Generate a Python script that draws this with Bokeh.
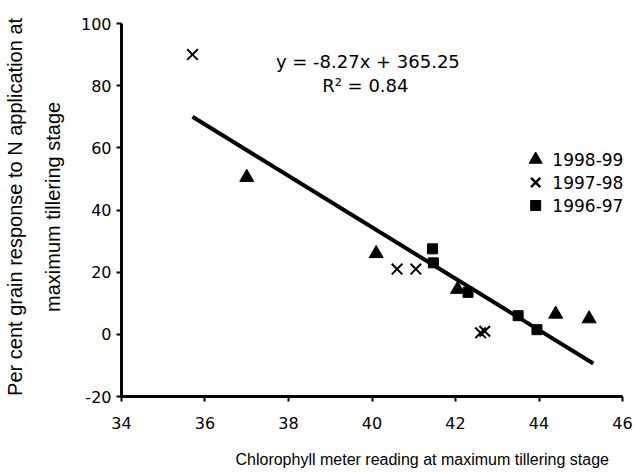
import math
from bokeh.plotting import figure
from bokeh.models import Label, FixedTicker
from bokeh.embed import file_html
from bokeh.resources import INLINE

# ---- data ----
x_9899 = [37.0, 40.1, 42.05, 44.4, 45.2]
y_9899 = [50.5, 26.0, 14.5, 6.5, 5.0]
x_9798 = [35.7, 40.6, 41.05, 42.6, 42.7]
y_9798 = [90.0, 21.0, 21.0, 0.5, 1.0]
x_9697 = [41.45, 41.47, 42.3, 43.5, 43.95]
y_9697 = [27.5, 23.0, 13.5, 6.0, 1.5]
series_labels = ["1998-99", "1997-98", "1996-97"]

slope = -8.27
intercept = 365.25
r_squared = 0.84
fit_x = [35.7, 45.3]
fit_y = [slope * v + intercept for v in fit_x]

x_ticks = [34, 36, 38, 40, 42, 44, 46]
y_ticks = [-20, 0, 20, 40, 60, 80, 100]

x_title = "Chlorophyll meter reading at maximum tillering stage"
y_title_1 = "Per cent grain response to N application at"
y_title_2 = "maximum tillering stage"

# ---- layout (axis units) ----
x_view = (31.102, 46.287)     # whole canvas width
y_view = (-44.45, 107.40)     # whole canvas height
legend_key_x = 43.92
legend_text_x = 44.32
legend_row_y = [56.25, 48.85, 41.45]

p = figure(width=634, height=472, x_range=x_view, y_range=y_view,
           output_backend="svg", toolbar_location=None,
           min_border=0, min_border_left=0, min_border_right=0,
           min_border_top=0, min_border_bottom=0)
p.outline_line_color = None
p.xgrid.visible = False
p.ygrid.visible = False
p.background_fill_color = "white"
p.border_fill_color = "white"

for ax in (p.xaxis[0], p.yaxis[0]):
    ax.axis_line_width = 3
    ax.axis_line_color = "black"
    ax.major_tick_line_width = 2
    ax.major_tick_line_color = "black"
    ax.major_tick_out = 5
    ax.major_tick_in = 0
    ax.minor_tick_line_color = None
    ax.major_label_text_font = "DejaVu Sans"
    ax.major_label_text_font_size = "16px"
    ax.major_label_text_color = "black"
p.xaxis[0].ticker = FixedTicker(ticks=x_ticks)
p.yaxis[0].ticker = FixedTicker(ticks=y_ticks)
p.xaxis[0].fixed_location = y_ticks[0]
p.yaxis[0].fixed_location = x_ticks[0]
p.xaxis[0].bounds = (x_ticks[0], x_ticks[-1])
p.yaxis[0].bounds = (y_ticks[0], y_ticks[-1])
p.yaxis[0].major_label_overrides = {-20: "-20"}
p.xaxis[0].major_label_standoff = 15
p.yaxis[0].major_label_standoff = 5

# regression line
p.line(fit_x, fit_y, line_color="black", line_width=4)

p.scatter(x_9899, y_9899, marker="triangle", size=14, color="black")
p.scatter(x_9798, y_9798, marker="x", size=15, line_color="black", line_width=2)
p.scatter(x_9697, y_9697, marker="square", size=10, color="black")

# legend keys
p.scatter([legend_key_x], [legend_row_y[0]], marker="triangle", size=13, color="black")
p.scatter([legend_key_x], [legend_row_y[1]], marker="x", size=13, line_color="black", line_width=2.5)
p.scatter([legend_key_x], [legend_row_y[2]], marker="square", size=10, color="black")
for lbl, ly in zip(series_labels, legend_row_y):
    p.add_layout(Label(x=legend_text_x, y=ly, text=lbl, text_align="left",
                       text_baseline="middle", text_font="DejaVu Sans",
                       text_font_size="17px", text_color="black"))

eq_text = "y = %.2fx + %.2f" % (slope, intercept)
p.add_layout(Label(x=39.9, y=87.8, text=eq_text, text_align="center",
                   text_baseline="middle", text_font="DejaVu Sans",
                   text_font_size="18px", text_color="black"))
p.add_layout(Label(x=39.84, y=80.0, text="R\u00b2 = %.2f" % r_squared,
                   text_align="center", text_baseline="middle",
                   text_font="DejaVu Sans", text_font_size="18px",
                   text_color="black"))

# axis titles
p.add_layout(Label(x=36.73, y=-40.3, text=x_title, text_align="left",
                   text_baseline="middle", text_font="Liberation Sans",
                   text_font_size="16px", text_color="black"))
p.add_layout(Label(x=31.46, y=41.0, text=y_title_1, angle=math.pi / 2,
                   text_align="center", text_baseline="middle",
                   text_font="Liberation Sans", text_font_size="20px",
                   text_color="black"))
p.add_layout(Label(x=32.37, y=41.0, text=y_title_2, angle=math.pi / 2,
                   text_align="center", text_baseline="middle",
                   text_font="Liberation Sans", text_font_size="20px",
                   text_color="black"))

open("out.html", "w").write(file_html(p, INLINE))
